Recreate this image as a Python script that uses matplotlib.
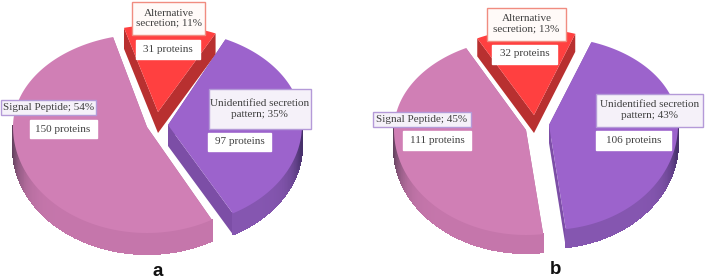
# 3D style exploded pies, panel a and b
import numpy as np
import matplotlib
matplotlib.use("Agg")
import matplotlib.pyplot as plt
from matplotlib.patches import Rectangle

plt.rcParams["font.family"] = ["Liberation Serif", "DejaVu Serif"]

categories = ["Signal Peptide", "Unidentified secretion pattern", "Alternative secretion"]
proteins_a = [150, 97, 31]
proteins_b = [111, 106, 32]
percent_a = [54, 35, 11]
percent_b = [45, 43, 13]

TOP = ["#D07FB5", "#9C63CC", "#FF4040"]
SIDE_LIGHT = ["#C576AB", "#8556B0", "#C03434"]
SIDE_DARK = ["#5E3F5A", "#46306A", "#8E2626"]
RADIAL = ["#B56A9C", "#7C4EA6", "#B83030"]


def to_rgb(c):
    return np.array(matplotlib.colors.to_rgb(c))


def outline(apex, rx, ry_up, ry_down, t1, t2, n=220):
    t = np.radians(np.linspace(t1, t2, n))
    ry = np.where(np.sin(t) > 0, ry_up, ry_down)
    return apex[0] + rx * np.cos(t), apex[1] - ry * np.sin(t), t


def draw_slice(ax, idx, apex, rx, ry_up, ry_down, t1, t2, depth):
    x, y, t = outline(apex, rx, ry_up, ry_down, t1, t2)
    # radial walls
    for j in (0, -1):
        ax.fill([apex[0], x[j], x[j], apex[0]],
                [apex[1], y[j], y[j] + depth, apex[1] + depth],
                color=RADIAL[idx], lw=0, zorder=2)
    # outer wall, darker where it turns away to the sides
    for i in range(len(x) - 1):
        if np.sin(t[i]) > 0.02:
            continue
        k = abs(np.cos(t[i])) ** 14
        col = (1 - k) * to_rgb(SIDE_LIGHT[idx]) + k * to_rgb(SIDE_DARK[idx])
        ax.fill([x[i], x[i + 1], x[i + 1], x[i]],
                [y[i], y[i + 1], y[i + 1] + depth, y[i] + depth],
                fc=col, ec=col, lw=0.8, antialiased=False, zorder=2)
    ax.fill(np.r_[apex[0], x], np.r_[apex[1], y], color=TOP[idx], lw=0, zorder=3)


def draw_pie(ax, counts, start, apexes, rx, ry_up, ry_down, depth):
    frac = np.array(counts) / sum(counts)
    a = start
    for idx, f in enumerate(frac):
        draw_slice(ax, idx, apexes[idx], rx[idx], ry_up[idx], ry_down[idx], a, a + f * 360, depth)
        a += f * 360


def box(ax, cx, cy, w, h, txt, edge=None, face="white"):
    if edge:
        ax.add_patch(Rectangle((cx - w / 2 + 1, cy - h / 2 + 1), w, h, color="#00000022", lw=0, zorder=4))
    ax.add_patch(Rectangle((cx - w / 2, cy - h / 2), w, h, fc=face, ec=edge or face, lw=1.0, zorder=5))
    ax.text(cx, cy, txt, ha="center", va="center", fontsize=8.0, color="#404040",
            linespacing=1.15, zorder=6)


fig = plt.figure(figsize=(7.08, 2.79), dpi=100)
ax = fig.add_axes([0, 0, 1, 1])
ax.set_xlim(0, 708)
ax.set_ylim(279, 0)
ax.axis("off")

draw_pie(ax, proteins_a, 104.7,
         [(147, 127), (168, 125), (158, 112)],
         [134, 134, 134], [93, 95, 87], [106, 101, 106], 21)
draw_pie(ax, proteins_b, 117,
         [(526, 130), (549, 125), (534, 115)],
         [132, 129, 125], [92, 88, 86], [105, 105, 105], 18)

RED_EDGE = "#F08C80"
PURPLE_EDGE = "#B49AD8"
PALE = "#F5F1F9"

# panel a labels
box(ax, 168.5, 18.5, 73, 33, f"Alternative\nsecretion; {percent_a[2]}%", RED_EDGE, "#FFFAF8")
box(ax, 168, 49, 64, 19, f"{proteins_a[2]} proteins")
box(ax, 48.5, 107, 95, 15, f"{categories[0]}; {percent_a[0]}%", PURPLE_EDGE, PALE)
box(ax, 63, 129, 67, 18, f"{proteins_a[0]} proteins")
box(ax, 259.5, 109, 102, 40, f"Unidentified secretion\npattern; {percent_a[1]}%", PURPLE_EDGE, PALE)
box(ax, 239.5, 142, 63, 18, f"{proteins_a[1]} proteins")

# panel b labels
box(ax, 526.5, 24, 79, 33, f"Alternative\nsecretion; {percent_b[2]}%", RED_EDGE, "#FFFAF8")
box(ax, 524.5, 54, 65, 19, f"{proteins_b[2]} proteins")
box(ax, 422, 119, 98, 15, f"{categories[0]}; {percent_b[0]}%", PURPLE_EDGE, PALE)
box(ax, 437, 140.5, 68, 19, f"{proteins_b[0]} proteins")
box(ax, 649.5, 110, 107, 33, f"Unidentified secretion\npattern; {percent_b[1]}%", PURPLE_EDGE, PALE)
box(ax, 633.5, 140.5, 75, 19, f"{proteins_b[1]} proteins")

ax.text(158, 272, "a", ha="center", va="center", fontsize=13.5, fontweight="bold",
        family="Liberation Sans", color="#111111")
ax.text(556, 270, "b", ha="center", va="center", fontsize=13.5, fontweight="bold",
        family="Liberation Sans", color="#111111")

fig.savefig("out.png", dpi=100)
